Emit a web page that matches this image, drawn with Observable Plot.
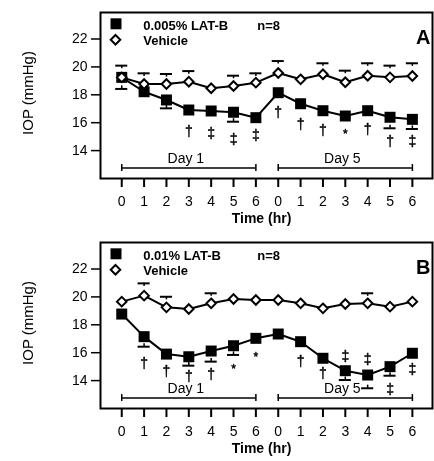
<!DOCTYPE html>
<html><head><meta charset="utf-8">
<script src="https://cdn.jsdelivr.net/npm/d3@7"></script>
<script src="https://cdn.jsdelivr.net/npm/@observablehq/plot@0.6"></script>
<style>body{margin:0;background:#fff} svg{display:block;filter:grayscale(1)}</style>
</head><body><div id="chart"></div>
<script>
// x positions: 14 hourly readings (Day 1: 0-6 hr, Day 5: 0-6 hr)
const hourLabels = ["0","1","2","3","4","5","6","0","1","2","3","4","5","6"];
const dayLabels = ["Day 1", "Day 5"];
const dayStart = [0, 7];
const dayEnd = [6, 13];
const yTicks = [14, 16, 18, 20, 22];

// Panel A: 0.005% LAT-B
const aName = "0.005% LAT-B";
const aLatB    = [19.25, 18.22, 17.63, 16.91, 16.84, 16.75, 16.36, 18.15, 17.36, 16.86, 16.48, 16.86, 16.39, 16.24];
const aLatBLow = [18.42, null, 17.03, null, null, 16.07, null, null, null, null, null, null, 15.6, 15.55];
const aVeh     = [19.25, 18.77, 18.77, 18.94, 18.47, 18.63, 18.87, 19.56, 19.11, 19.47, 18.9, 19.37, 19.25, 19.35];
const aVehHigh = [20.09, 19.54, 19.49, 19.7, null, 19.37, 19.54, 20.42, null, 20.26, 19.73, 20.26, 20.09, 20.26];
const aSig     = ["", "", "", "†", "‡", "‡", "‡", "†", "†", "†", "*", "†", "†", "‡"];
const aSigY    = [null, null, null, 15.39, 15.24, 14.83, 15.05, 16.75, 15.84, 15.43, 15.36, 15.5, 14.64, 14.64];

// Panel B: 0.01% LAT-B
const bName = "0.01% LAT-B";
const bLatB    = [18.77, 17.15, 15.9, 15.71, 16.12, 16.5, 17.03, 17.34, 16.79, 15.6, 14.71, 14.4, 15.0, 15.96];
const bLatBLow = [null, 16.43, null, 15.07, 15.36, 15.84, null, null, null, null, 14.04, 13.45, 14.35, null];
const bVeh     = [19.66, 20.09, 19.25, 19.13, 19.54, 19.85, 19.78, 19.78, 19.54, 19.18, 19.49, 19.54, 19.3, 19.66];
const bVehHigh = [null, 20.97, 20.01, null, 20.26, null, null, null, null, null, null, 20.26, null, null];
const bSig     = ["", "†", "†", "†", "†", "*", "*", "", "†", "†", "‡", "‡", "‡", "‡"];
const bSigY    = [null, 15.24, 14.67, 14.26, 14.42, 15.0, 15.9, null, 15.38, 14.49, 15.71, 15.51, 13.38, 14.76];

const FONT = "'Liberation Sans', Arial, Helvetica, sans-serif";

function panel(name, letter, latB, latBLow, veh, vehHigh, sig, sigY, height) {
  const idx = d3.range(hourLabels.length);
  const rows = idx.map(i => ({i, latB: latB[i], low: latBLow[i], veh: veh[i], high: vehHigh[i], sig: sig[i], sigY: sigY[i]}));
  const lows = rows.filter(d => d.low != null);
  const highs = rows.filter(d => d.high != null);
  const days = dayLabels.map((label, k) => ({label, s: dayStart[k], e: dayEnd[k]}));
  const capW = 0.27;
  const stem = 0.22;
  return Plot.plot({
    width: 434, height,
    marginLeft: 100, marginRight: 2, marginTop: 12, marginBottom: height - 178,
    style: {fontFamily: FONT, color: "black", background: "white", overflow: "visible"},
    x: {domain: [-0.95, 13.9], axis: null},
    y: {domain: [12, 23.9], axis: null},
    marks: [
      Plot.axisY({ticks: yTicks, tickSize: 9, tickPadding: 4, fontSize: 14, strokeWidth: 1.5, label: null}),
      Plot.axisX({ticks: idx, tickFormat: i => hourLabels[i], tickSize: 8, tickPadding: 9, dy: 1, fontSize: 14, strokeWidth: 2, label: null}),
      Plot.frame({stroke: "black", strokeWidth: 2}),
      // day brackets
      Plot.ruleY(days, {y: () => 12.75, x1: "s", x2: "e", stroke: "black", strokeWidth: 1.5}),
      Plot.ruleX([...dayStart, ...dayEnd], {x: d => d, y1: () => 12.5, y2: () => 13.0, stroke: "black", strokeWidth: 1.5}),
      Plot.text(days, {x: d => (d.s + d.e) / 2, y: () => 13.45, text: "label", fontSize: 14, dx: -3}),
      // lines
      Plot.line(rows, {x: "i", y: "latB", stroke: "black", strokeWidth: 2}),
      Plot.line(rows, {x: "i", y: "veh", stroke: "black", strokeWidth: 2}),
      // error bars (one-sided, cap with short stem)
      Plot.ruleX(lows, {x: "i", y1: d => d.low + stem, y2: "low", stroke: "black", strokeWidth: 1.5}),
      Plot.ruleY(lows, {y: "low", x1: d => d.i - capW, x2: d => d.i + capW, stroke: "black", strokeWidth: 2}),
      Plot.ruleX(highs, {x: "i", y1: d => d.high - stem, y2: "high", stroke: "black", strokeWidth: 1.5}),
      Plot.ruleY(highs, {y: "high", x1: d => d.i - capW, x2: d => d.i + capW, stroke: "black", strokeWidth: 2}),
      // markers
      Plot.dot(rows, {x: "i", y: "latB", symbol: "square", r: 6.2, fill: "black"}),
      Plot.dot(rows, {x: "i", y: "veh", symbol: "diamond2", r: 4.3, fill: "white", stroke: "black", strokeWidth: 2}),
      // significance
      Plot.text(rows.filter(d => d.sig && d.sig !== "*"), {x: "i", y: "sigY", text: "sig", fontSize: 14, fill: "black", stroke: "black", strokeWidth: 0.4}),
      Plot.text(rows.filter(d => d.sig === "*"), {x: "i", y: "sigY", text: "sig", fontSize: 12, dy: 3, fill: "black", stroke: "black", strokeWidth: 0.4}),
      // legend
      Plot.dot([0], {frameAnchor: "top-left", dx: 15.5, dy: 11.3, symbol: "square", r: 6.2, fill: "black"}),
      Plot.dot([0], {frameAnchor: "top-left", dx: 15, dy: 27.3, symbol: "diamond2", r: 4.3, fill: "white", stroke: "black", strokeWidth: 2}),
      Plot.text([name], {frameAnchor: "top-left", lineAnchor: "middle", dx: 42.7, dy: 13.1, textAnchor: "start", fontWeight: "bold", fontSize: 13}),
      Plot.text(["n=8"], {frameAnchor: "top-left", lineAnchor: "middle", dx: 156.7, dy: 13.1, textAnchor: "start", fontWeight: "bold", fontSize: 13}),
      Plot.text(["Vehicle"], {frameAnchor: "top-left", lineAnchor: "middle", dx: 42.7, dy: 28.1, textAnchor: "start", fontWeight: "bold", fontSize: 13}),
      Plot.text([letter], {frameAnchor: "top-right", lineAnchor: "middle", dx: -2, dy: 24.9, textAnchor: "end", fontWeight: "bold", fontSize: 20}),
      // axis titles
      Plot.text(["IOP (mmHg)"], {frameAnchor: "left", textAnchor: "middle", lineAnchor: "middle", rotate: -90, dx: -72, dy: -2.5, fontSize: 15}),
      Plot.text(["Time (hr)"], {frameAnchor: "bottom", lineAnchor: "middle", dx: -5, dy: 40.5, fontWeight: "bold", fontSize: 14})
    ]
  });
}

const root = document.getElementById("chart");
root.append(panel(aName, "A", aLatB, aLatBLow, aVeh, aVehHigh, aSig, aSigY, 230));
root.append(panel(bName, "B", bLatB, bLatBLow, bVeh, bVehHigh, bSig, bSigY, 231));
</script>
</body></html>
